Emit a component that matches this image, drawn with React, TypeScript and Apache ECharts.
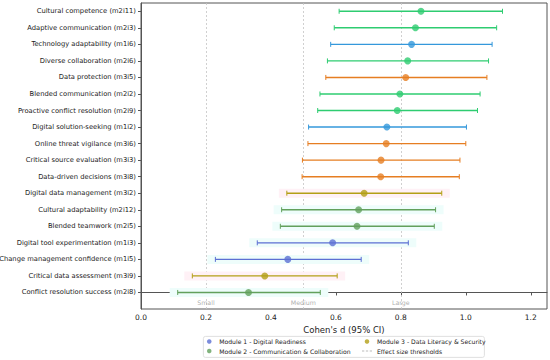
import React, { useEffect, useRef } from "react";
import * as echarts from "echarts";

const categories = [
  "Cultural competence (m2i11)",
  "Adaptive communication (m2i3)",
  "Technology adaptability (m1i6)",
  "Diverse collaboration (m2i6)",
  "Data protection (m3i5)",
  "Blended communication (m2i2)",
  "Proactive conflict resolution (m2i9)",
  "Digital solution-seeking (m1i2)",
  "Online threat vigilance (m3i6)",
  "Critical source evaluation (m3i3)",
  "Data-driven decisions (m3i8)",
  "Digital data management (m3i2)",
  "Cultural adaptability (m2i12)",
  "Blended teamwork (m2i5)",
  "Digital tool experimentation (m1i3)",
  "Change management confidence (m1i5)",
  "Critical data assessment (m3i9)",
  "Conflict resolution success (m2i8)",
];
const modules = [2, 2, 1, 2, 3, 2, 2, 1, 3, 3, 3, 3, 2, 2, 1, 1, 3, 2];
const effect = [0.862, 0.845, 0.833, 0.821, 0.815, 0.797, 0.789, 0.757, 0.755, 0.739, 0.738, 0.687, 0.67, 0.665, 0.59, 0.452, 0.381, 0.331];
const ciLow = [0.61, 0.595, 0.584, 0.574, 0.569, 0.551, 0.544, 0.516, 0.514, 0.497, 0.496, 0.449, 0.433, 0.429, 0.358, 0.229, 0.158, 0.113];
const ciHigh = [1.113, 1.095, 1.081, 1.07, 1.065, 1.044, 1.036, 1.002, 1.0, 0.982, 0.98, 0.926, 0.907, 0.903, 0.823, 0.678, 0.604, 0.552];
const xTicks = [0, 0.2, 0.4, 0.6, 0.8, 1.0, 1.2];
const thresholds = [0.2, 0.5, 0.8];
const thresholdLabels = ["Small", "Medium", "Large"];
const moduleNames = [
  "Module 1 - Digital Readiness",
  "Module 2 - Communication & Collaboration",
  "Module 3 - Data Literacy & Security",
];
const thresholdName = "Effect size thresholds";

const brightColors: Record<number, string> = { 1: "#3498db", 2: "#2ecc71", 3: "#e67e22" };
const mutedColors: Record<number, string> = { 1: "#5b6fd3", 2: "#62a05c", 3: "#b39f16" };
const bandColors: Record<number, string> = { 1: "#eefdfb", 2: "#eefdfb", 3: "#fff1f6" };
const HIGHLIGHT_BELOW = 0.7;

const n = categories.length;
const FONT = "DejaVu Sans";

function rowColor(i: number) {
  return effect[i] < HIGHLIGHT_BELOW ? mutedColors[modules[i]] : brightColors[modules[i]];
}

export default function App() {
  const ref = useRef<HTMLDivElement>(null);
  useEffect(() => {
    if (!ref.current) return;
    const chart = echarts.init(ref.current, undefined, { renderer: "svg" });
    const rows = categories.map((_, i) => [ciLow[i], ciHigh[i], n - 1 - i, effect[i]]);
    const yValues = categories.map((_, i) => i);
    const legendText = { fontFamily: FONT, fontSize: 6.1, color: "#222" };
    const option: any = {
      animation: false,
      backgroundColor: "#ffffff",
      grid: {
        left: 141,
        right: 3,
        top: 3,
        bottom: 51,
        show: true,
        borderColor: "#555",
        borderWidth: 1,
        containLabel: false,
        outerBoundsMode: "none",
      },
      xAxis: {
        type: "value",
        min: 0,
        max: 1.25,
        name: "Cohen's d (95% CI)",
        nameLocation: "middle",
        nameGap: 14,
        nameTextStyle: { fontFamily: FONT, fontSize: 8.5, color: "#222" },
        axisLine: { show: true, lineStyle: { color: "#555" } },
        axisTick: { show: true, length: 3, customValues: xTicks, lineStyle: { color: "#555" } },
        axisLabel: {
          customValues: xTicks,
          fontFamily: FONT,
          fontSize: 7.5,
          color: "#222",
          margin: 4,
          formatter: (v: number) => v.toFixed(1),
        },
        splitLine: { show: false },
      },
      yAxis: {
        type: "value",
        min: -1,
        max: 17.5,
        axisLine: { show: true, lineStyle: { color: "#555" } },
        axisTick: { show: true, length: 3, customValues: yValues, lineStyle: { color: "#555" } },
        axisLabel: {
          customValues: yValues,
          fontFamily: FONT,
          fontSize: 6.75,
          color: "#1a1a1a",
          margin: 5,
          formatter: (v: number) => {
            const idx = n - 1 - Math.round(v);
            return categories[idx] ?? "";
          },
        },
        splitLine: { show: false },
      },
      legend: [
        {
          orient: "vertical",
          left: 207,
          top: 338.5,
          itemWidth: 10,
          itemHeight: 4.5,
          itemGap: 3.5,
          padding: 0,
          textStyle: legendText,
          data: [
            { name: moduleNames[0], icon: "circle" },
            { name: moduleNames[1], icon: "circle" },
          ],
        },
        {
          orient: "vertical",
          left: 362,
          top: 338.5,
          itemWidth: 10,
          itemHeight: 4.5,
          itemGap: 3.5,
          padding: 0,
          textStyle: legendText,
          data: [
            { name: moduleNames[2], icon: "circle" },
            { name: thresholdName, icon: "path://M0 0h3v1H0z M5 0h3v1H5z M10 0h3v1h-3z" },
          ],
        },
      ],
      graphic: [
        {
          type: "rect",
          left: 203,
          top: 336,
          shape: { width: 281, height: 21, r: 2 },
          style: { fill: "#fff", stroke: "#d8d8d8", lineWidth: 0.8 },
          z: -1,
          silent: true,
        },
      ],
      series: [
        {
          type: "custom",
          name: "ci",
          z: 2,
          data: rows,
          renderItem: (params: any, api: any) => {
            const i = params.dataIndex;
            const lo = api.coord([api.value(0), api.value(2)]);
            const hi = api.coord([api.value(1), api.value(2)]);
            const color = rowColor(i);
            const cap = 2.5;
            const children: any[] = [];
            if (effect[i] < HIGHLIGHT_BELOW) {
              children.push({
                type: "rect",
                shape: { x: lo[0] - 8, y: lo[1] - 4.5, width: hi[0] - lo[0] + 16, height: 9 },
                style: { fill: bandColors[modules[i]] },
                z2: 0,
              });
            }
            children.push(
              { type: "line", shape: { x1: lo[0], y1: lo[1], x2: hi[0], y2: hi[1] }, style: { stroke: color, lineWidth: 1.4 }, z2: 1 },
              { type: "line", shape: { x1: lo[0], y1: lo[1] - cap, x2: lo[0], y2: lo[1] + cap }, style: { stroke: color, lineWidth: 1 }, z2: 1 },
              { type: "line", shape: { x1: hi[0], y1: hi[1] - cap, x2: hi[0], y2: hi[1] + cap }, style: { stroke: color, lineWidth: 1 }, z2: 1 }
            );
            return { type: "group", children };
          },
          encode: { x: [0, 1], y: 2 },
          markLine: {
            silent: true,
            symbol: "none",
            label: { show: false },
            lineStyle: { color: "#c4c4c4", type: [2, 2], width: 0.8 },
            data: thresholds.map((t) => ({ xAxis: t })),
            z: 1,
          },
        },
        {
          type: "scatter",
          name: "effect",
          z: 3,
          symbolSize: 7,
          data: categories.map((_, i) => ({
            value: [effect[i], n - 1 - i],
            itemStyle: { color: rowColor(i) },
          })),
        },
        {
          type: "scatter",
          name: "thresholdLabels",
          z: 3,
          symbolSize: 0,
          data: thresholds.map((t, i) => ({ value: [t, -0.6], name: thresholdLabels[i] })),
          label: {
            show: true,
            position: "inside",
            formatter: (p: any) => p.name,
            fontFamily: FONT,
            fontSize: 6.3,
            color: "#999",
          },
        },
        { type: "scatter", name: moduleNames[0], data: [], itemStyle: { color: mutedColors[1] } },
        { type: "scatter", name: moduleNames[1], data: [], itemStyle: { color: mutedColors[2] } },
        { type: "scatter", name: moduleNames[2], data: [], itemStyle: { color: mutedColors[3] } },
        {
          type: "line",
          name: thresholdName,
          data: [],
          symbol: "none",
          itemStyle: { color: "#bbbbbb" },
          lineStyle: { color: "#bbbbbb", type: [2, 1.5], width: 0.8 },
        },
      ],
    };
    chart.setOption(option);
    return () => chart.dispose();
  }, []);
  return <div ref={ref} style={{ width: 550, height: 360, position: "absolute", left: 0, top: 0 }} />;
}
